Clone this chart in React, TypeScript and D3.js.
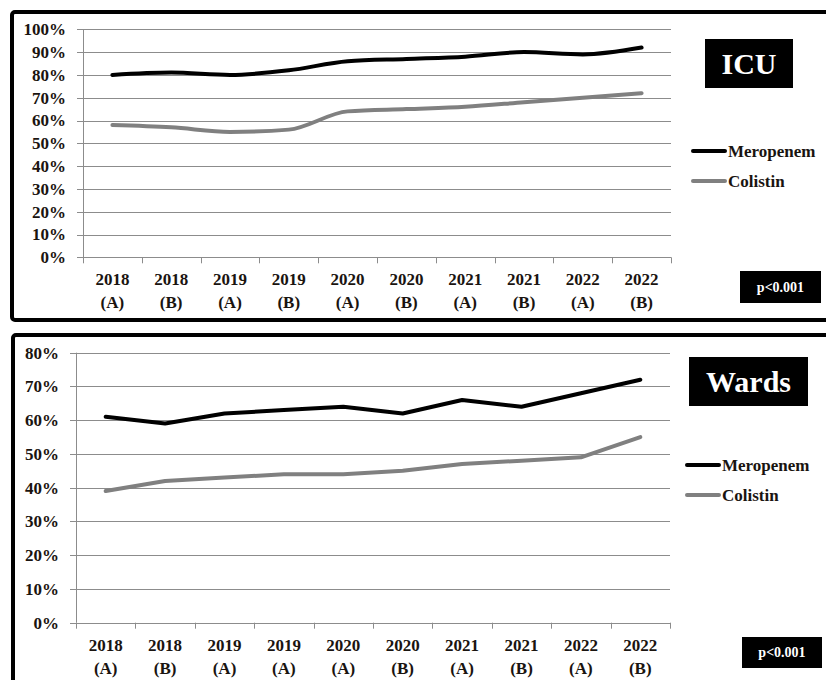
import React from 'react';
import * as d3 from 'd3';

const periods = ['2018|(A)', '2018|(B)', '2019|(A)', '2019|(B)', '2020|(A)', '2020|(B)', '2021|(A)', '2021|(B)', '2022|(A)', '2022|(B)'];
const wardPeriods = ['2018|(A)', '2018|(B)', '2019|(A)', '2019|(A)', '2020|(A)', '2020|(B)', '2021|(A)', '2021|(B)', '2022|(A)', '2022|(B)'];

const icuMeropenem = [80, 81, 80, 82, 86, 87, 88, 90, 89, 92];
const icuColistin = [58, 57, 55, 56, 64, 65, 66, 68, 70, 72];
const wardsMeropenem = [61, 59, 62, 63, 64, 62, 66, 64, 68, 72];
const wardsColistin = [39, 42, 43, 44, 44, 45, 47, 48, 49, 55];

const icuTicks = [0, 10, 20, 30, 40, 50, 60, 70, 80, 90, 100];
const wardTicks = [0, 10, 20, 30, 40, 50, 60, 70, 80];

const FONT = "'Liberation Serif', 'DejaVu Serif', serif";
const TXT = '#1a1410';

const Panel = ({ frame, plot, yMax, ticks, cats, mero, coli, curve, title, titleBox, legendX, legendY, pBox }) => {
    const x = d3.scaleBand().domain(d3.range(cats.length)).range([plot.left, plot.right]);
    const y = d3.scaleLinear().domain([0, yMax]).range([plot.bottom, plot.top]);
    const line = d3.line().x((d, i) => x(i) + x.bandwidth() / 2).y(d => y(d)).curve(curve);
    const bounds = d3.range(cats.length + 1).map(i => plot.left + i * x.bandwidth());
    const txt = { fontFamily: FONT, fontWeight: 'bold' };

    return (
        <g>
            <rect x={frame.x} y={frame.y} width={frame.w} height={frame.h} rx={3} fill="#fff" stroke="#000" strokeWidth={4} />
            {/* gridlines */}
            {ticks.map(t => (
                <line key={'g' + t} x1={plot.left - 6} x2={plot.right} y1={Math.round(y(t)) + 0.5} y2={Math.round(y(t)) + 0.5} stroke="#8c8c8c" strokeWidth={1} />
            ))}
            <line x1={plot.left + 0.5} x2={plot.left + 0.5} y1={y(yMax)} y2={plot.bottom} stroke="#8c8c8c" />
            {bounds.map((b, i) => (
                <line key={'t' + i} x1={Math.round(b) + 0.5} x2={Math.round(b) + 0.5} y1={plot.bottom} y2={plot.bottom + 6} stroke="#8c8c8c" />
            ))}
            {ticks.map(t => (
                <text key={'y' + t} x={plot.left - 17} y={y(t)} dy="0.35em" textAnchor="end" style={txt} fontSize={17} fill={TXT}>{t + '%'}</text>
            ))}
            {cats.map((c, i) => {
                const [a, b] = c.split('|');
                const cx = x(i) + x.bandwidth() / 2;
                return (
                    <text key={'x' + i} x={cx} textAnchor="middle" style={txt} fontSize={17} fill={TXT}>
                        <tspan x={cx} y={plot.bottom + 28}>{a}</tspan>
                        <tspan x={cx} y={plot.bottom + 51}>{b}</tspan>
                    </text>
                );
            })}
            <path d={line(coli)} fill="none" stroke="#808080" strokeWidth={4} strokeLinecap="round" strokeLinejoin="round" />
            <path d={line(mero)} fill="none" stroke="#000" strokeWidth={4} strokeLinecap="round" strokeLinejoin="round" />

            <rect x={titleBox.x} y={titleBox.y} width={titleBox.w} height={titleBox.h} fill="#000" />
            <text x={titleBox.x + titleBox.w / 2} y={titleBox.y + titleBox.h / 2} dy="0.35em" textAnchor="middle" style={txt} fontSize={30} fill="#fff">{title}</text>

            {[['Meropenem', '#000'], ['Colistin', '#808080']].map(([name, col], i) => (
                <g key={name} transform={`translate(${legendX},${legendY + i * 30})`}>
                    <line x1={0} x2={32} y1={0} y2={0} stroke={col} strokeWidth={4} strokeLinecap="round" />
                    <text x={35} y={0} dy="0.35em" style={txt} fontSize={17} fill={TXT}>{name}</text>
                </g>
            ))}

            <rect x={pBox.x} y={pBox.y} width={pBox.w} height={pBox.h} fill="#000" />
            <text x={pBox.x + pBox.w / 2} y={pBox.y + pBox.h / 2} dy="0.35em" textAnchor="middle" style={txt} fontSize={14} fill="#fff">p&lt;0.001</text>
        </g>
    );
};

export default function App() {
    return (
        <svg width={826} height={680} style={{ display: 'block', position: 'absolute', left: 0, top: 0, background: '#fff' }}>
            <Panel
                frame={{ x: 12, y: 12, w: 830, h: 308 }}
                plot={{ left: 83, right: 671, top: 29.3, bottom: 257.3 }}
                yMax={100}
                ticks={icuTicks}
                cats={periods}
                mero={icuMeropenem}
                coli={icuColistin}
                curve={d3.curveMonotoneX}
                title="ICU"
                titleBox={{ x: 705, y: 39, w: 88, h: 49 }}
                legendX={693}
                legendY={151}
                pBox={{ x: 740, y: 271, w: 81, h: 32 }}
            />
            <Panel
                frame={{ x: 13, y: 335, w: 830, h: 360 }}
                plot={{ left: 76, right: 670, top: 352.7, bottom: 622.7 }}
                yMax={80}
                ticks={wardTicks}
                cats={wardPeriods}
                mero={wardsMeropenem}
                coli={wardsColistin}
                curve={d3.curveLinear}
                title="Wards"
                titleBox={{ x: 689, y: 357, w: 119, h: 49 }}
                legendX={687}
                legendY={465}
                pBox={{ x: 742, y: 637, w: 80, h: 31 }}
            />
        </svg>
    );
}
